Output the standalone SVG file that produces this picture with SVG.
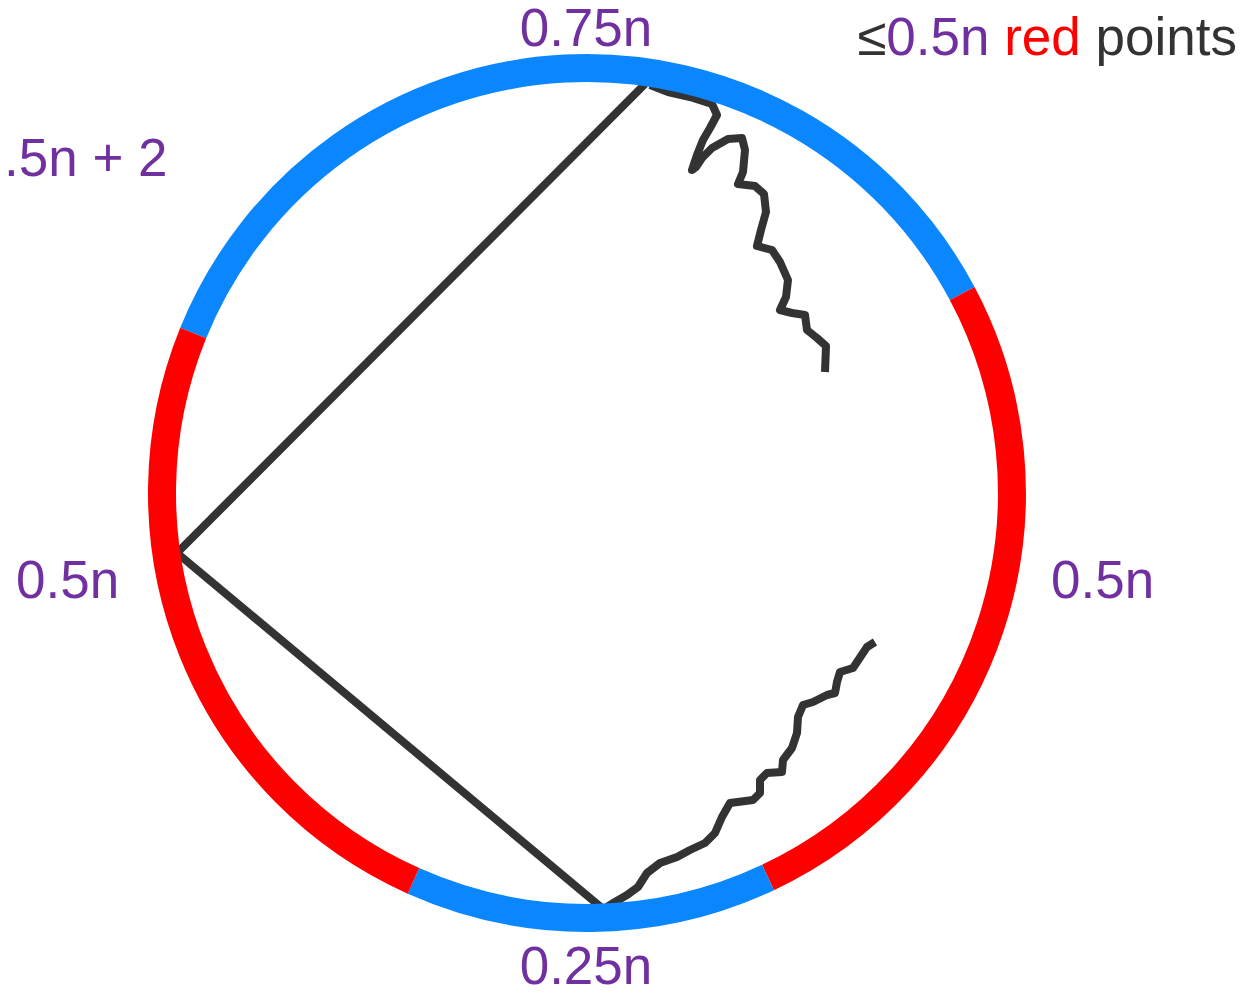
<svg xmlns="http://www.w3.org/2000/svg" width="1255" height="995" viewBox="0 0 1255 995">
<style>
.lbl{font-family:"Liberation Sans",Arial,sans-serif;font-size:53px;fill:#7030A0}
.arc{fill:none;stroke-width:28;stroke-linecap:butt}
.blue{stroke:#0A86FF}
.red{stroke:#FF0000}
.edge{fill:none;stroke:#333333;stroke-width:8;stroke-linejoin:round;stroke-linecap:butt}
</style>
<rect width="1255" height="995" fill="#FFFFFF"/>
<g id="connectors">
<polyline class="edge" points="645,84 177,553 602,908"/>
<polyline id="wiggle-top" class="edge" points="650,85 668,92 690,97 712,104 717,115 710,128 703,140 697,155 692,170 696,167 702,158 712,148 728,139 742,138 745,150 743,172 738,184 755,186 764,194 766,212 761,230 757,246 772,250 780,262 788,280 786,297 780,310 792,313 805,315 807,330 817,338 826,346 825,372"/>
<polyline id="wiggle-bottom" class="edge" points="607,907 615,902 627,895 638,887 647,873 660,863 677,857 690,850 705,843 715,833 722,817 730,803 753,800 760,793 760,780 767,773 782,772 783,760 792,748 797,733 798,717 803,705 813,702 827,695 835,693 837,682 840,672 853,668 857,662 863,653 867,647 875,642"/>
</g>
<g id="circle">
<path class="arc blue" d="M193.2,333.1 A425,425 0 0 1 962.2,293.5"/>
<path class="arc red" d="M962.2,293.5 A425,425 0 0 1 768,877.5"/>
<path class="arc blue" d="M768,877.5 A425,425 0 0 1 413.5,880.9"/>
<path class="arc red" d="M413.5,880.9 A425,425 0 0 1 193.2,333.1"/>
</g>
<g id="labels">
<text class="lbl" x="586" y="46" text-anchor="middle">0.75n</text>
<text class="lbl" x="586" y="984" text-anchor="middle">0.25n</text>
<text class="lbl" x="16" y="598">0.5n</text>
<text class="lbl" x="1051" y="598">0.5n</text>
<text class="lbl" x="4" y="176">.5n + 2</text>
<text class="lbl" x="1237" y="55" text-anchor="end"><tspan fill="#333333">≤</tspan>0.5n <tspan fill="#FF0000">red</tspan> <tspan fill="#333333">points</tspan></text>
</g>
</svg>
